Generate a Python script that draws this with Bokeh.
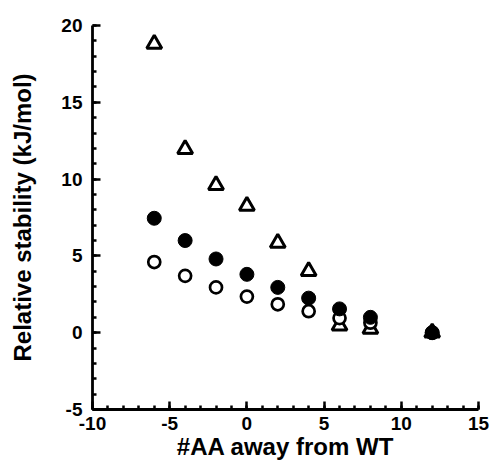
from bokeh.plotting import figure
from bokeh.models import Range1d, SingleIntervalTicker, ColumnDataSource, PrintfTickFormatter
from bokeh.embed import file_html
from bokeh.resources import INLINE

x_vals = [-6, -4, -2, 0, 2, 4, 6, 8, 12]
triangle_vals = [18.8, 11.95, 9.6, 8.25, 5.85, 4.0, 0.45, 0.25, 0.0]
filled_vals = [7.45, 6.0, 4.8, 3.8, 2.95, 2.25, 1.55, 1.0, 0.0]
open_vals = [4.6, 3.7, 2.95, 2.35, 1.85, 1.4, 0.95, 0.65, 0.0]

x_label = "#AA away from WT"
y_label = "Relative stability (kJ/mol)"

FONT = "Liberation Sans"

p = figure(width=490, height=462, output_backend="svg", toolbar_location=None,
           x_range=Range1d(-10, 15), y_range=Range1d(-5, 20),
           min_border_left=92, min_border_right=12, min_border_top=25, min_border_bottom=53)
p.outline_line_color = None
p.xgrid.visible = False
p.ygrid.visible = False

src_t = ColumnDataSource(dict(x=x_vals, y=triangle_vals))
src_f = ColumnDataSource(dict(x=x_vals, y=filled_vals))
src_o = ColumnDataSource(dict(x=x_vals, y=open_vals))

p.scatter("x", "y", source=src_t, marker="triangle", size=15, line_width=3,
          line_color="black", fill_color="white")
p.scatter("x", "y", source=src_o, marker="circle", size=12, line_width=2.7,
          line_color="black", fill_color="white")
p.scatter("x", "y", source=src_f, marker="circle", size=14, line_width=1,
          line_color="black", fill_color="black")

for ax in (p.xaxis[0], p.yaxis[0]):
    ax.ticker = SingleIntervalTicker(interval=5, num_minor_ticks=5)
    ax.formatter = PrintfTickFormatter(format="%d")
    ax.axis_line_width = 2.8
    ax.axis_line_color = "black"
    ax.major_tick_in = 8
    ax.major_tick_out = 0
    ax.minor_tick_in = 4
    ax.minor_tick_out = 0
    ax.major_tick_line_width = 2.5
    ax.minor_tick_line_width = 2.5
    ax.major_tick_line_color = "black"
    ax.minor_tick_line_color = "black"
    ax.major_label_text_font = FONT
    ax.major_label_text_font_style = "bold"
    ax.major_label_text_font_size = "19px"
    ax.major_label_text_color = "black"
    ax.axis_label_text_font = FONT
    ax.axis_label_text_font_style = "bold"
    ax.axis_label_text_font_size = "24px"
    ax.axis_label_text_color = "black"

p.xaxis.axis_label = x_label
p.yaxis.axis_label = y_label
p.xaxis.major_label_standoff = 7
p.yaxis.major_label_standoff = 10
p.xaxis.axis_label_standoff = 0
p.yaxis.axis_label_standoff = 22

open("out.html", "w").write(file_html(p, INLINE))
